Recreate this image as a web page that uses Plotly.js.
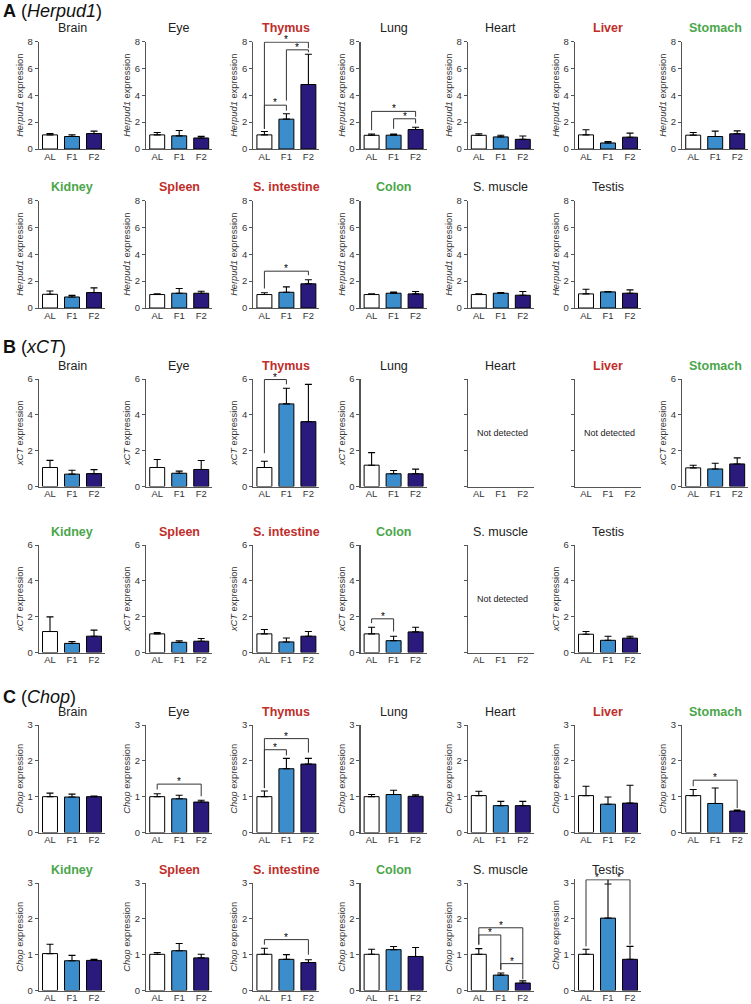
<!DOCTYPE html>
<html><head><meta charset="utf-8">
<script src="https://cdn.plot.ly/plotly-3.0.1.min.js"></script>
<style>html,body{margin:0;padding:0;background:#fff}#chart{width:751px;height:1004px}</style>
</head><body><div id="chart"></div>
<script>
// ---------------- DATA ----------------
const groups = ['AL', 'F1', 'F2'];
const organs = ['Brain', 'Eye', 'Thymus', 'Lung', 'Heart', 'Liver', 'Stomach',
                'Kidney', 'Spleen', 'S. intestine', 'Colon', 'S. muscle', 'Testis'];
const redOrgans = ['Thymus', 'Liver', 'Spleen', 'S. intestine'];
const greenOrgans = ['Stomach', 'Kidney', 'Colon'];
const genes = ['Herpud1', 'xCT', 'Chop'];
const panelLetters = ['A', 'B', 'C'];
const herpud1Ticks = [0, 2, 4, 6, 8];
const xctTicks = [0, 2, 4, 6];
const chopTicks = [0, 1, 2, 3];
const notDetectedLabel = 'Not detected';

const herpud1Mean = [
  [1.05, 0.93, 1.15], [1.05, 0.98, 0.82], [1.05, 2.22, 4.8], [1.02, 1.03, 1.45],
  [1.02, 0.9, 0.72], [1.05, 0.45, 0.88], [1.03, 0.93, 1.13],
  [1.02, 0.82, 1.15], [1.0, 1.1, 1.1], [1.0, 1.17, 1.8], [1.0, 1.1, 1.05],
  [1.0, 1.1, 0.95], [1.05, 1.2, 1.1]];
const herpud1Err = [
  [0.1, 0.12, 0.18], [0.18, 0.4, 0.12], [0.25, 0.4, 2.25], [0.1, 0.08, 0.17],
  [0.12, 0.12, 0.25], [0.38, 0.1, 0.3], [0.2, 0.4, 0.22],
  [0.25, 0.12, 0.35], [0.05, 0.35, 0.15], [0.13, 0.4, 0.3], [0.05, 0.08, 0.18],
  [0.05, 0.05, 0.28], [0.35, 0.03, 0.25]];

const xctMean = [
  [1.06, 0.69, 0.72], [1.06, 0.74, 0.95], [1.06, 4.61, 3.62], [1.19, 0.71, 0.71],
  null, null, [1.04, 0.98, 1.26],
  [1.17, 0.51, 0.91], [1.04, 0.57, 0.63], [1.04, 0.59, 0.91], [1.04, 0.66, 1.15],
  null, [1.02, 0.68, 0.8]];
const xctErr = [
  [0.4, 0.22, 0.22], [0.45, 0.12, 0.5], [0.35, 0.87, 2.08], [0.7, 0.18, 0.26],
  null, null, [0.15, 0.32, 0.34],
  [0.82, 0.1, 0.34], [0.07, 0.09, 0.15], [0.24, 0.22, 0.26], [0.37, 0.25, 0.26],
  null, [0.15, 0.23, 0.11]];

const chopMean = [
  [1.0, 0.99, 1.0], [1.0, 0.94, 0.85], [1.0, 1.78, 1.91], [1.0, 1.06, 1.01],
  [1.03, 0.75, 0.75], [1.03, 0.79, 0.82], [1.03, 0.81, 0.6],
  [1.03, 0.83, 0.84], [1.01, 1.11, 0.91], [1.01, 0.87, 0.78], [1.01, 1.14, 0.95],
  [1.01, 0.43, 0.21], [1.01, 2.02, 0.87]];
const chopErr = [
  [0.1, 0.08, 0.02], [0.08, 0.1, 0.05], [0.16, 0.29, 0.16], [0.06, 0.12, 0.04],
  [0.12, 0.12, 0.12], [0.26, 0.2, 0.5], [0.17, 0.43, 0.03],
  [0.26, 0.15, 0.03], [0.05, 0.2, 0.1], [0.17, 0.13, 0.08], [0.14, 0.09, 0.25],
  [0.16, 0.06, 0.06], [0.14, 0.95, 0.36]];

// significance brackets: [organ index, group i, group j, bracket height, leg end i, leg end j]
const herpud1Sig = [
  [2, 0, 2, 7.95, 1.5, 7.5], [2, 1, 2, 7.38, 3.6, 7.2], [2, 0, 1, 3.26, 1.5, 2.85],
  [3, 0, 2, 2.8, 1.4, 2.4], [3, 1, 2, 2.25, 1.5, 1.9],
  [9, 0, 2, 2.74, 1.45, 2.44]];
const xctSig = [
  [2, 0, 1, 5.97, 1.86, 5.7],
  [10, 0, 1, 1.88, 1.64, 1.17]];
const chopSig = [
  [1, 0, 2, 1.35, 1.2, 1.01],
  [2, 0, 2, 2.62, 1.24, 2.23], [2, 0, 1, 2.31, 1.24, 2.15],
  [6, 0, 2, 1.46, 1.29, 0.68],
  [9, 0, 2, 1.42, 1.28, 1.0],
  [11, 0, 2, 1.75, 1.28, 0.75], [11, 0, 1, 1.55, 1.28, 0.58], [11, 1, 2, 0.75, 0.58, 0.31],
  [12, 0, 1, 3.09, 1.23, 2.98], [12, 1, 2, 3.09, 2.98, 1.28]];

// ---------------- STYLE / LAYOUT ----------------
const W = 751, H = 1004;
const FONT = 'Liberation Sans, Arial, Helvetica, sans-serif';
const barColors = ['#ffffff', '#3b8dcc', '#2a1a7c'];
const RED = '#bf2e2a', GREEN = '#4aa64a';
const AXC = '#555555';
const colX0 = 39, colStep = 107.2, panelW = 66, panelH = 107.5;
const rowBottoms = [149, 308, 486.5, 652.5, 832.5, 990.5];
const sectionLabelY = [11, 347, 697];

const means = [herpud1Mean, xctMean, chopMean];
const errs = [herpud1Err, xctErr, chopErr];
const sigs = [herpud1Sig, xctSig, chopSig];
const ticks = [herpud1Ticks, xctTicks, chopTicks];

const data = [];
const layout = {
  width: W, height: H, margin: {l: 0, r: 0, t: 0, b: 0},
  paper_bgcolor: '#fff', plot_bgcolor: 'rgba(0,0,0,0)',
  showlegend: false, font: {family: FONT, color: '#222'},
  annotations: [], shapes: []
};
const py = px => 1 - px / H;
const pxX = px => px / W;

genes.forEach((gene, g) => {
  layout.annotations.push({
    xref: 'paper', yref: 'paper', x: pxX(1), y: py(sectionLabelY[g]),
    xanchor: 'left', yanchor: 'middle', showarrow: false,
    text: '<b>' + panelLetters[g] + '</b> (<i>' + gene + '</i>)',
    font: {size: 18, color: '#111', family: FONT}
  });
  const tk = ticks[g];
  const tMax = tk[tk.length - 1];
  organs.forEach((organ, o) => {
    const n = g * organs.length + o + 1;
    const row = g * 2 + (o < 7 ? 0 : 1);
    const col = o < 7 ? o : o - 7;
    const xs = n === 1 ? '' : String(n);
    const x0 = colX0 + colStep * col;
    const bottom = rowBottoms[row];
    const m = means[g][o];
    const e = errs[g][o];
    const panelSigs = sigs[g].filter(s => s[0] === o);
    let topR = tMax;
    panelSigs.forEach(s => { if (s[3] > topR * 0.997) topR = s[3] * 1.004; });
    const topPx = bottom - panelH * topR / tMax;

    const trace = {
      type: 'bar', x: groups, y: m ? m : [null, null, null],
      xaxis: 'x' + xs, yaxis: 'y' + xs, width: 0.68,
      marker: {color: barColors, line: {color: '#000', width: 1}},
      hoverinfo: 'skip'
    };
    if (m) {
      trace.error_y = {type: 'data', array: e, arrayminus: [0, 0, 0], symmetric: false,
        color: '#000', thickness: 1.1, width: 3.5};
    }
    data.push(trace);

    layout['xaxis' + xs] = {
      domain: [pxX(x0), pxX(x0 + panelW)], anchor: 'y' + xs,
      type: 'category', categoryorder: 'array', categoryarray: groups,
      range: [-0.5, 2.5], showline: true, linecolor: AXC, linewidth: 1.2,
      ticks: '', showgrid: false, zeroline: false, fixedrange: true,
      ticklabelstandoff: -2,
      tickfont: {size: 9.5, color: '#333', family: FONT}
    };
    layout['yaxis' + xs] = {
      domain: [py(bottom), py(topPx)], anchor: 'x' + xs,
      range: [0, topR], tickvals: tk, ticktext: tk.map(String),
      showline: true, linecolor: AXC, linewidth: 1.2,
      ticks: 'outside', ticklen: 3, tickwidth: 1, tickcolor: AXC,
      showgrid: false, zeroline: false, fixedrange: true,
      showticklabels: !!m,
      tickfont: {size: 9.5, color: '#333', family: FONT},
      title: m ? {text: '<i>' + gene + '</i> expression', standoff: 2,
        font: {size: 9.3, color: '#333', family: FONT}} : {text: ''}
    };

    // panel title
    const isRed = redOrgans.includes(organ), isGreen = greenOrgans.includes(organ);
    layout.annotations.push({
      xref: 'paper', yref: 'paper', x: pxX(x0 + panelW / 2), y: py(bottom - panelH - 13),
      xanchor: 'center', yanchor: 'middle', showarrow: false,
      text: (isRed || isGreen) ? '<b>' + organ + '</b>' : organ,
      font: {size: 12.5, family: FONT, color: isRed ? RED : (isGreen ? GREEN : '#222')}
    });

    if (!m) {
      layout.annotations.push({
        xref: 'paper', yref: 'paper', x: pxX(x0 + 7), y: py(bottom - panelH / 2),
        xanchor: 'left', yanchor: 'middle', showarrow: false,
        text: notDetectedLabel, font: {size: 9, family: FONT, color: '#222'}
      });
    }

    panelSigs.forEach(s => {
      const [, i, j, h, li, lj] = s;
      const ln = {color: '#333', width: 1};
      const base = {type: 'line', xref: 'x' + xs, yref: 'y' + xs, line: ln, layer: 'above'};
      layout.shapes.push(Object.assign({}, base, {x0: i, x1: i, y0: li, y1: h}));
      layout.shapes.push(Object.assign({}, base, {x0: i, x1: j, y0: h, y1: h}));
      layout.shapes.push(Object.assign({}, base, {x0: j, x1: j, y0: lj, y1: h}));
      layout.annotations.push({
        xref: 'x' + xs, yref: 'y' + xs, x: (i + j) / 2, y: h,
        xanchor: 'center', yanchor: 'bottom', yshift: -5, showarrow: false,
        text: '*', font: {size: 10, family: FONT, color: '#000'}
      });
    });
  });
});

Plotly.newPlot('chart', data, layout, {staticPlot: true, displayModeBar: false});
</script>
</body></html>
